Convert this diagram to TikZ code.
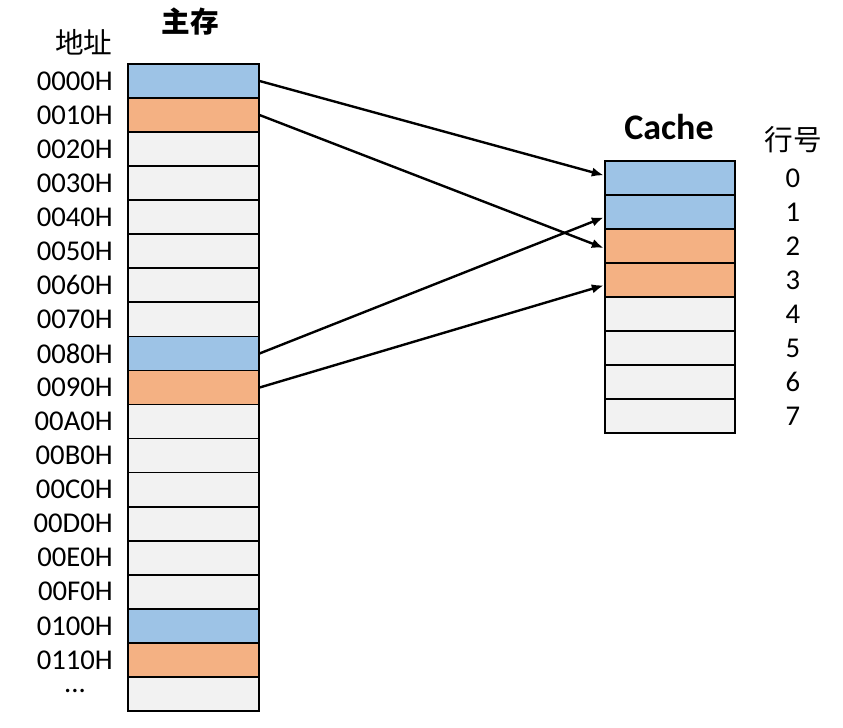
\documentclass[tikz,border=0pt]{standalone}
\usepackage{fontspec}
\usetikzlibrary{arrows.meta}
\setmainfont{Carlito}
\newfontfamily\cjk{Noto Sans CJK SC}
\definecolor{rowblue}{HTML}{9DC3E6}
\definecolor{roworange}{HTML}{F4B183}
\definecolor{rowgrey}{HTML}{F2F2F2}
\tikzset{
  cell/.style={draw, line width=1.3pt, minimum width=98pt, minimum height=25.5pt, inner sep=0pt},
  lbl/.style={font=\fontsize{21.5}{26}\selectfont, inner sep=0pt},
  map/.style={-{Latex[length=9pt,width=7pt]}, line width=1.8pt},
}
\begin{document}
\begin{tikzpicture}[x=0.75pt, y=-0.75pt]
    \useasboundingbox (0,0) rectangle (843,728);
    % main memory
    \node[lbl] (addr) at (84,42) {\cjk 地址};
    \node[lbl] (mem) at (190,22) {\cjk\bfseries 主存};
    \foreach \i/\c/\a in {0/rowblue/0000H, 1/roworange/0010H, 2/rowgrey/0020H,
        3/rowgrey/0030H, 4/rowgrey/0040H, 5/rowgrey/0050H, 6/rowgrey/0060H,
        7/rowgrey/0070H, 8/rowblue/0080H, 9/roworange/0090H, 10/rowgrey/00A0H,
        11/rowgrey/00B0H, 12/rowgrey/00C0H, 13/rowgrey/00D0H, 14/rowgrey/00E0H,
        15/rowgrey/00F0H, 16/rowblue/0100H, 17/roworange/0110H} {
      \node[cell, fill=\c] (m\i) at (193.5, {64+34.05*(\i+0.5)}) {};
      \node[lbl, anchor=east] (a\i) at (113, {64+34.05*(\i+0.5)}) {\a};
    }
    \node[cell, fill=rowgrey] (m18) at (193.5, {64+34.05*18.5}) {};
    \node[lbl, anchor=base, text height=3pt, text depth=0pt] (dots) at (75,692) {...};
    % cache
    \node[lbl, font=\fontsize{27}{32}\selectfont] (cache) at (669,127) {\bfseries Cache};
    \node[lbl] (lineno) at (793,140) {\cjk 行号};
    \foreach \i/\c in {0/rowblue, 1/rowblue, 2/roworange, 3/roworange,
        4/rowgrey, 5/rowgrey, 6/rowgrey, 7/rowgrey} {
      \node[cell, fill=\c] (c\i) at (670, {161+34*(\i+0.5)}) {};
      \node[lbl] (n\i) at (793, {178+34*\i}) {\i};
    }
    \draw [map] (m0.east) -- ([yshift=2pt]c0.west);
    \draw [map] (m1.east) -- ([yshift=-1.5pt]c2.west);
    \draw [map] (m8.east) -- ([yshift=-4pt]c1.west);
    \draw [map] (m9.east) -- ([yshift=-4pt]c3.west);
\end{tikzpicture}
\end{document}
